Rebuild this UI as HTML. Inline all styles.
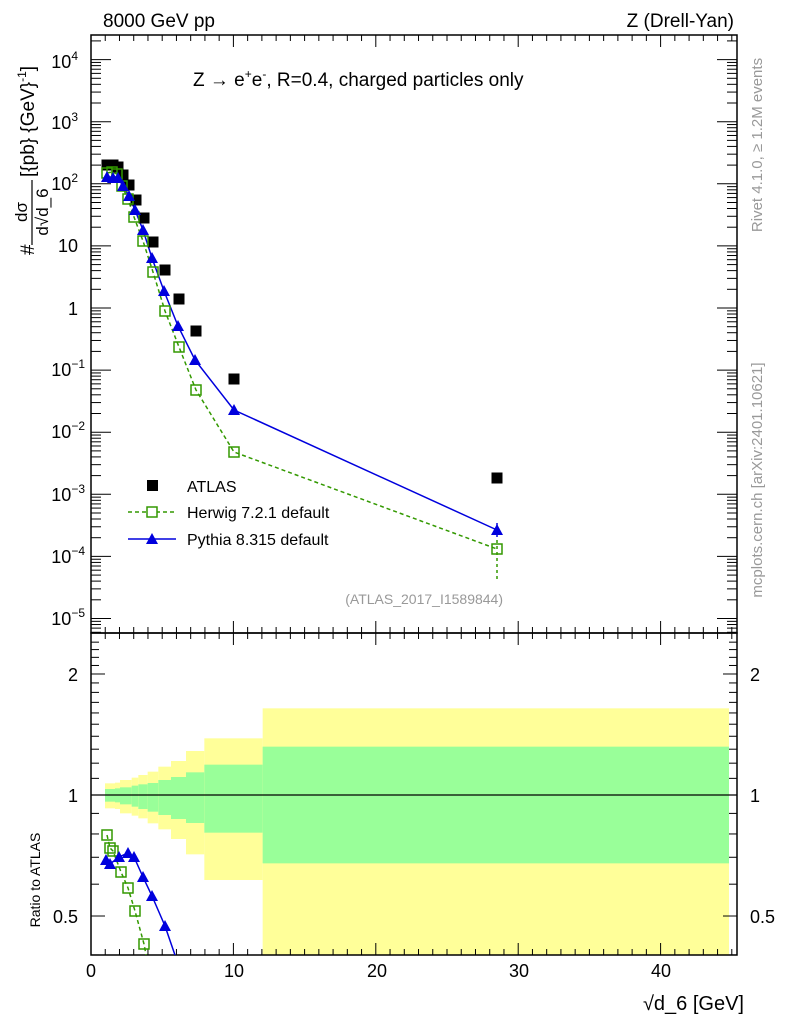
<!DOCTYPE html>
<html><head><meta charset="utf-8"><style>
body{margin:0;background:#fff}
svg{display:block;font-family:"Liberation Sans",sans-serif}
</style></head><body>
<svg id="s" width="786" height="1024" viewBox="0 0 786 1024" xmlns="http://www.w3.org/2000/svg">
<g id="bands"></g>
<g id="ticks" stroke="#000" stroke-width="1"></g>
<rect x="91" y="35" width="646" height="598" fill="none" stroke="#000" stroke-width="1.5"/>
<rect x="91" y="633" width="646" height="322" fill="none" stroke="#000" stroke-width="1.5"/>
<line x1="91" y1="795" x2="737" y2="795" stroke="#000" stroke-width="1.2"/>
<g id="data"></g>
<text x="103" y="27" font-size="19">8000 GeV pp</text>
<text x="734" y="27" font-size="19" text-anchor="end">Z (Drell-Yan)</text>
<text x="193" y="86" font-size="19">Z <tspan>→</tspan> e<tspan font-size="12" dy="-8">+</tspan><tspan dy="8">e</tspan><tspan font-size="12" dy="-8">-</tspan><tspan dy="8">, R=0.4, charged particles only</tspan></text>
<g font-size="18" text-anchor="end">
<text x="78" y="68">10<tspan font-size="12" dy="-8">4</tspan></text>
<text x="78" y="129">10<tspan font-size="12" dy="-8">3</tspan></text>
<text x="78" y="190">10<tspan font-size="12" dy="-8">2</tspan></text>
<text x="78" y="252">10</text>
<text x="78" y="315">1</text>
<text x="85" y="376">10<tspan font-size="12" dy="-8">−1</tspan></text>
<text x="85" y="438">10<tspan font-size="12" dy="-8">−2</tspan></text>
<text x="85" y="501">10<tspan font-size="12" dy="-8">−3</tspan></text>
<text x="85" y="563">10<tspan font-size="12" dy="-8">−4</tspan></text>
<text x="85" y="625">10<tspan font-size="12" dy="-8">−5</tspan></text>
<text x="78" y="681">2</text>
<text x="78" y="802">1</text>
<text x="78" y="923">0.5</text>
</g>
<g font-size="18" text-anchor="start">
<text x="750" y="681">2</text>
<text x="750" y="802">1</text>
<text x="750" y="923">0.5</text>
</g>
<g font-size="18" text-anchor="middle">
<text x="91" y="977">0</text><text x="234" y="977">10</text><text x="377" y="977">20</text><text x="519" y="977">30</text><text x="661" y="977">40</text>
</g>
<text x="744" y="1010" font-size="20" text-anchor="end">√d_6 [GeV]</text>
<text transform="translate(40,880) rotate(-90)" font-size="14" text-anchor="middle">Ratio to ATLAS</text>
<g transform="translate(0,0) rotate(-90)" font-size="19">
<text x="-255" y="34">#</text>
<text x="-212" y="27" font-size="17" text-anchor="middle">dσ</text>
<line x1="-245" y1="32" x2="-180" y2="32" stroke="#000" stroke-width="1.2"/>
<text x="-212" y="48" font-size="17" text-anchor="middle">d√d_6</text>
<text x="-177" y="34">[{pb} {GeV}<tspan font-size="12" dy="-8">-1</tspan><tspan dy="8">]</tspan></text>
</g>
<text transform="translate(762,145) rotate(-90)" font-size="15" fill="#999" text-anchor="middle">Rivet 4.1.0, ≥ 1.2M events</text>
<text transform="translate(762,480) rotate(-90)" font-size="15" fill="#999" text-anchor="middle">mcplots.cern.ch [arXiv:2401.10621]</text>
<text x="503" y="604" font-size="14" fill="#999" text-anchor="end">(ATLAS_2017_I1589844)</text>
<rect x="147" y="480" width="11" height="11" fill="#000"/>
<text x="187" y="492" font-size="16">ATLAS</text>
<line x1="128" y1="512" x2="176" y2="512" stroke="#339900" stroke-width="1.5" stroke-dasharray="4,3"/>
<rect x="147" y="507" width="10" height="10" fill="#fff" stroke="#339900" stroke-width="1.5"/>
<text x="187" y="518" font-size="16">Herwig 7.2.1 default</text>
<line x1="128" y1="539" x2="176" y2="539" stroke="#0000dd" stroke-width="1.5"/>
<path d="M146 544 L158 544 L152 533 Z" fill="#0000dd"/>
<text x="187" y="545" font-size="16">Pythia 8.315 default</text>
</svg>
<script>
var NS="http://www.w3.org/2000/svg";
function el(p,t,a){var e=document.createElementNS(NS,t);for(var k in a)e.setAttribute(k,a[k]);document.getElementById(p).appendChild(e);return e;}
function X(v){return 91+14.24*v;}
for(var v=0;v<=45;v++){var L=(v%10==0)?12:6;
 el("ticks","line",{x1:X(v),y1:633,x2:X(v),y2:633-L});
 el("ticks","line",{x1:X(v),y1:35,x2:X(v),y2:35+L});
 el("ticks","line",{x1:X(v),y1:955,x2:X(v),y2:955-L});
 el("ticks","line",{x1:X(v),y1:633,x2:X(v),y2:633+L});}
function Y(v){return 308-62.1*Math.log10(v);}
for(var d=-6;d<=4;d++){for(var m=1;m<10;m++){var y=Y(m*Math.pow(10,d));if(y<35||y>633)continue;var L=m==1?20:10;
 el("ticks","line",{x1:91,y1:y,x2:91+L,y2:y});el("ticks","line",{x1:737,y1:y,x2:737-L,y2:y});}}
function R(r){return 795-402*Math.log10(r);}
[0.4,0.5,0.6,0.7,0.8,0.9,1,1.1,1.2,1.3,1.4,1.5,1.6,1.7,1.8,1.9,2,2.1,2.2,2.3,2.4].forEach(function(r){var y=R(r);if(y<633||y>955)return;
 var L=(r==0.5||r==1||r==2)?14:8;el("ticks","line",{x1:91,y1:y,x2:91+L,y2:y});el("ticks","line",{x1:737,y1:y,x2:737-L,y2:y});});
var B=[[75,105,370,387,425,445],[105,120,368,385,427,447],[120,155,360,382,433,460],[155,175,353,377,440,467],[175,203,345,373,447,475],[203,235,335,369,455,490],[235,273,320,360,465,508],[273,318,303,351,477,537],[318,373,273,337,489,583],[373,548,235,314,518,660],[548,1947,145,260,610,885]];
B.forEach(function(b){var x1=80+b[0]/3,x2=Math.min(80+b[1]/3,729);
 el("bands","rect",{x:x1,y:660+b[2]/3,width:x2-x1,height:(b[5]-b[2])/3,fill:"#ffff99"});
 el("bands","rect",{x:x1,y:660+b[3]/3,width:x2-x1,height:(b[4]-b[3])/3,fill:"#99ff99"});});
var A=[[107,165],[113,165],[118,167],[123,175],[129,185],[136,200],[144,218],[153,242],[165,270],[179,299],[196,331],[234,379],[497,478]];
var H=[[107,173],[112,172],[117,174],[122,186],[128,199],[134,217],[143,241],[153,272],[165,311],[179,347],[196,390],[234,452],[497,549]];
var P=[[107,177],[113,178],[118,178],[123,186],[129,196],[135,210],[143,230],[152,258],[164,291],[178,326],[195,360],[234,410],[497,530]];
var HR=[[107,835],[110,848],[113,851],[121,872],[128,888],[135,911],[144,944],[147,960]];
var PR=[[106,860],[110,864],[119,857],[128,853],[134,857],[143,877],[152,896],[165,926],[176,958]];
function pl(a){return a.map(function(p){return p.join(",")}).join(" ");}
el("data","line",{x1:497,y1:540,x2:497,y2:582,stroke:"#339900","stroke-width":1.5,"stroke-dasharray":"3,3"});
el("data","line",{x1:497,y1:523,x2:497,y2:537,stroke:"#0000dd","stroke-width":1.5});
el("data","polyline",{points:pl(H),fill:"none",stroke:"#339900","stroke-width":1.5,"stroke-dasharray":"4,3"});
el("data","polyline",{points:pl(P),fill:"none",stroke:"#0000dd","stroke-width":1.5});
var cp=el("data","clipPath",{id:"c"});var cr=document.createElementNS(NS,"rect");cr.setAttribute("x",91);cr.setAttribute("y",633);cr.setAttribute("width",646);cr.setAttribute("height",322);cp.appendChild(cr);
el("data","polyline",{points:pl(HR),fill:"none",stroke:"#339900","stroke-width":1.5,"stroke-dasharray":"4,3","clip-path":"url(#c)"});
el("data","polyline",{points:pl(PR),fill:"none",stroke:"#0000dd","stroke-width":1.5,"clip-path":"url(#c)"});
A.forEach(function(p){el("data","rect",{x:p[0]-5.5,y:p[1]-5.5,width:11,height:11,fill:"#000"});});
H.concat(HR.slice(0,7)).forEach(function(p){el("data","rect",{x:p[0]-5,y:p[1]-5,width:10,height:10,fill:"none",stroke:"#339900","stroke-width":1.5});});
P.concat(PR.slice(0,8)).forEach(function(p){el("data","path",{d:"M"+(p[0]-6)+" "+(p[1]+5)+" L"+(p[0]+6)+" "+(p[1]+5)+" L"+p[0]+" "+(p[1]-6)+" Z",fill:"#0000dd"});});
</script>
</body></html>
